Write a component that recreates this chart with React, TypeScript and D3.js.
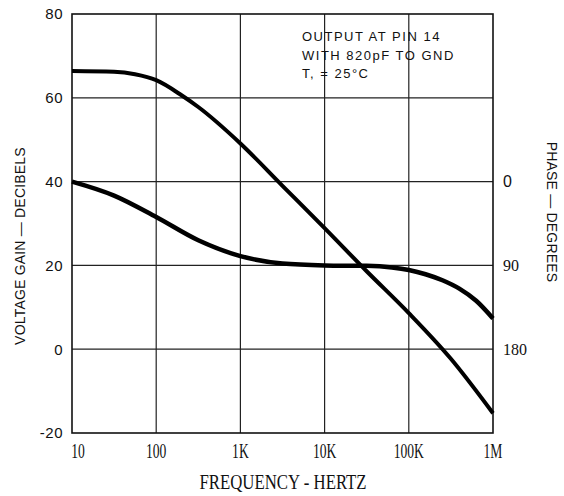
import React from "react";
import * as d3 from "d3";

const W = 564;
const H = 496;

// Frequency axis
const xTicks = [10, 100, 1000, 10000, 100000, 1000000];
const xTickLabels = ["10", "100", "1K", "10K", "100K", "1M"];
// Gain axis
const yTicks = [80, 60, 40, 20, 0, -20];
const yTickLabels = ["80", "60", "40", "20", "0", "-20"];
// Phase axis
const phaseTicks = [0, 90, 180];
const phaseTickLabels = ["0", "90", "180"];

// Voltage gain curve (dB)
const gainFreq = [10, 31.6, 56, 100, 200, 316, 1000, 3160, 10000, 31600, 100000, 316000, 1000000];
const gainDb = [66.4, 66.2, 65.6, 64.2, 60.6, 57.8, 49.1, 39.0, 28.9, 18.6, 8.6, -2.3, -15.3];

// Phase curve (degrees)
const phaseFreq = [10, 31.6, 100, 316, 1000, 3160, 10000, 31600, 63000, 100000, 158000, 251000, 398000, 631000, 1000000];
const phaseDeg = [0, 15, 38, 63, 80, 88, 90, 90.5, 92.3, 95, 99.5, 106, 115, 128, 147];

const noteLines = ["OUTPUT AT PIN 14", "WITH 820pF TO GND", "T, = 25°C"];

export default function App() {
  const left = 72, right = 493, top = 14, bottom = 433;
  const x = d3.scaleLog().domain([10, 1e6]).range([left, right]);
  const y = d3.scaleLinear().domain([-20, 80]).range([bottom, top]);
  const yPhase = d3.scaleLinear().domain([0, 180]).range([y(40), y(0)]);

  const gainLine = d3
    .line<number>()
    .x((_, i) => x(gainFreq[i]))
    .y((d) => y(d))
    .curve(d3.curveMonotoneX);
  const phaseLine = d3
    .line<number>()
    .x((_, i) => x(phaseFreq[i]))
    .y((d) => yPhase(d))
    .curve(d3.curveMonotoneX);

  const gridColor = "#222";
  const sans = "'Liberation Sans', Arial, sans-serif";
  const serif = "'Liberation Serif', 'Times New Roman', serif";

  return (
    <svg
      width={W}
      height={H}
      style={{ position: "absolute", left: 0, top: 0, background: "#fff" }}
    >
      <rect x={0} y={0} width={W} height={H} fill="#fff" />
      {/* grid */}
      {xTicks.slice(1, -1).map((t) => (
        <line key={"gx" + t} x1={x(t)} x2={x(t)} y1={top} y2={bottom} stroke={gridColor} strokeWidth={1.2} />
      ))}
      {yTicks.slice(1, -1).map((t) => (
        <line key={"gy" + t} x1={left} x2={right} y1={y(t)} y2={y(t)} stroke={gridColor} strokeWidth={1.2} />
      ))}
      <rect x={left} y={top} width={right - left} height={bottom - top} fill="none" stroke="#111" strokeWidth={1.6} />

      {/* curves */}
      <path d={gainLine(gainDb) || ""} fill="none" stroke="#000" strokeWidth={4} strokeLinejoin="round" />
      <path d={phaseLine(phaseDeg) || ""} fill="none" stroke="#000" strokeWidth={4.5} strokeLinejoin="round" />

      {/* left ticks */}
      {yTicks.map((t, i) => (
        <text key={"yl" + t} x={63} y={y(t)} dy="0.36em" textAnchor="end" fontFamily={sans} fontSize={15} letterSpacing={0.5} fill="#111">
          {yTickLabels[i]}
        </text>
      ))}
      {/* right phase ticks */}
      {phaseTicks.map((t, i) => (
        <text key={"pl" + t} x={503} y={yPhase(t)} dy="0.36em" textAnchor="start" fontFamily={i === 0 ? sans : serif} fontSize={16} fill="#111">
          {phaseTickLabels[i]}
        </text>
      ))}
      {/* x ticks */}
      {xTicks.map((t, i) => (
        <text
          key={"xl" + t}
          transform={`translate(${i === 0 ? x(t) + 6 : x(t)},458) scale(0.68,1)`}
          textAnchor="middle"
          fontFamily={serif}
          fontSize={20}
          fill="#111"
        >
          {xTickLabels[i]}
        </text>
      ))}

      {/* axis titles */}
      <text
        transform="translate(283,489) scale(0.84,1)"
        textAnchor="middle"
        fontFamily={serif}
        fontSize={20}
        fill="#111"
      >
        FREQUENCY - HERTZ
      </text>
      <text
        transform="translate(25,246) rotate(-90)"
        textAnchor="middle"
        fontFamily={sans}
        fontSize={14}
        letterSpacing={0.2}
        fill="#111"
      >
        VOLTAGE GAIN — DECIBELS
      </text>
      <text
        transform="translate(547,212) rotate(90)"
        textAnchor="middle"
        fontFamily={sans}
        fontSize={14}
        letterSpacing={0.2}
        fill="#111"
      >
        PHASE — DEGREES
      </text>

      {/* annotation */}
      {noteLines.map((s, i) => (
        <text key={"n" + i} x={302} y={41 + i * 18.7} fontFamily={sans} fontSize={13} letterSpacing={1.5} fill="#111">
          {s}
        </text>
      ))}
    </svg>
  );
}
